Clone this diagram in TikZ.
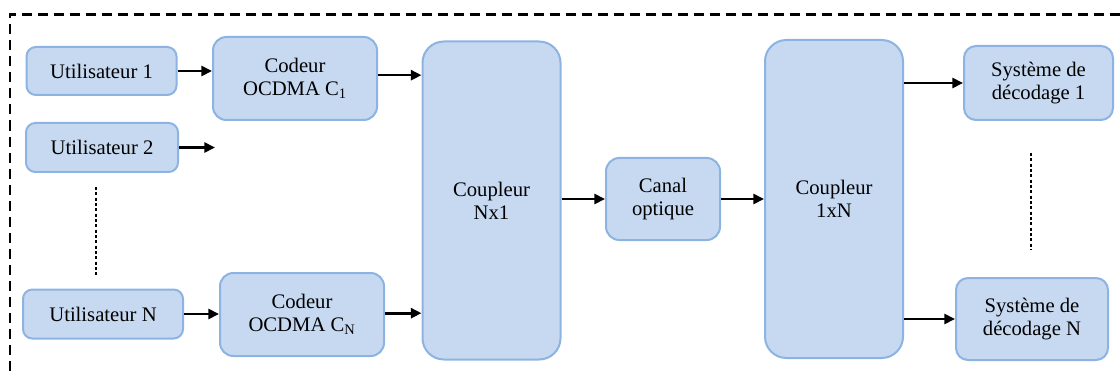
\documentclass[tikz,border=0pt]{standalone}
\usepackage{fontspec}
\setmainfont{Liberation Serif}
\usetikzlibrary{arrows.meta}
\definecolor{boxfill}{HTML}{C6D9F1}
\definecolor{boxline}{HTML}{8DB3E2}
\tikzset{
  box/.style={draw=boxline, fill=boxfill, line width=1.5pt, align=center,
    inner sep=0pt, font=\fontsize{15.5}{17.5}\selectfont},
  arr/.style={line width=2pt, -{Triangle[length=8pt,width=7.5pt]}},
  frame/.style={line width=2.2pt, dash pattern=on 7.5pt off 4.5pt},
  dots/.style={line width=2.2pt, dash pattern=on 2.2pt off 1.8pt}
}
\begin{document}
\begin{tikzpicture}[x=0.75pt,y=-0.75pt]
\useasboundingbox (0,0) rectangle (1120,374);
\draw[frame] (1120,14.5) -- (10,14.5) -- (10,374);
% left column
\node[box, rounded corners=7pt, minimum width=150*0.75pt, minimum height=48*0.75pt] (u1) at (101.5,71) {Utilisateur 1};
\node[box, rounded corners=7pt, minimum width=152*0.75pt, minimum height=49*0.75pt] (u2) at (102,147.5) {Utilisateur 2};
\node[box, rounded corners=7pt, minimum width=160*0.75pt, minimum height=49*0.75pt] (un) at (103,314) {Utilisateur N};
\node[box, rounded corners=10pt, minimum width=164*0.75pt, minimum height=83*0.75pt] (c1) at (295,78.5) {Codeur\\OCDMA C\textsubscript{1}};
\node[box, rounded corners=10pt, minimum width=164*0.75pt, minimum height=83*0.75pt] (cn) at (302,314.5) {Codeur\\OCDMA C\textsubscript{N}};
\node[box, rounded corners=16pt, minimum width=138*0.75pt, minimum height=318*0.75pt] (cnx) at (491.5,200.5) {Coupleur\\Nx1};
\node[box, rounded corners=10pt, minimum width=114*0.75pt, minimum height=82*0.75pt] (canal) at (663,199) {Canal\\optique};
\node[box, rounded corners=16pt, minimum width=138*0.75pt, minimum height=318*0.75pt] (c1xn) at (834,199) {Coupleur\\1xN};
\node[box, rounded corners=9pt, minimum width=149*0.75pt, minimum height=74*0.75pt] (s1) at (1038.5,83) {Système de\\décodage 1};
\node[box, rounded corners=9pt, minimum width=152*0.75pt, minimum height=82*0.75pt] (sn) at (1032,319) {Système de\\décodage N};
% free ends and connector start points
\coordinate (u2e) at (215,147.5);
\coordinate (c1o) at ([yshift=2.5pt]c1.east);
\coordinate (cno) at ([yshift=1pt]cn.east);
\coordinate (dla) at (96,187);
\coordinate (dlb) at (96,275);
\coordinate (dra) at (1031,153);
\coordinate (drb) at (1031,250);
% connectors
\draw[arr] (u1.east) -- (c1.west |- u1.east);
\draw[arr] (u2.east) -- (u2e);
\draw[arr] (un.east) -- (cn.west |- un.east);
\draw[arr] (c1o) -- (cnx.west |- c1o);
\draw[arr] (cno) -- (cnx.west |- cno);
\draw[arr] (cnx.east |- canal.west) -- (canal.west);
\draw[arr] (canal.east) -- (c1xn.west |- canal.east);
\draw[arr] (c1xn.east |- s1.west) -- (s1.west);
\draw[arr] (c1xn.east |- sn.west) -- (sn.west);
% dotted ellipsis lines
\draw[dots] (dla) -- (dlb);
\draw[dots] (dra) -- (drb);
\end{tikzpicture}
\end{document}
